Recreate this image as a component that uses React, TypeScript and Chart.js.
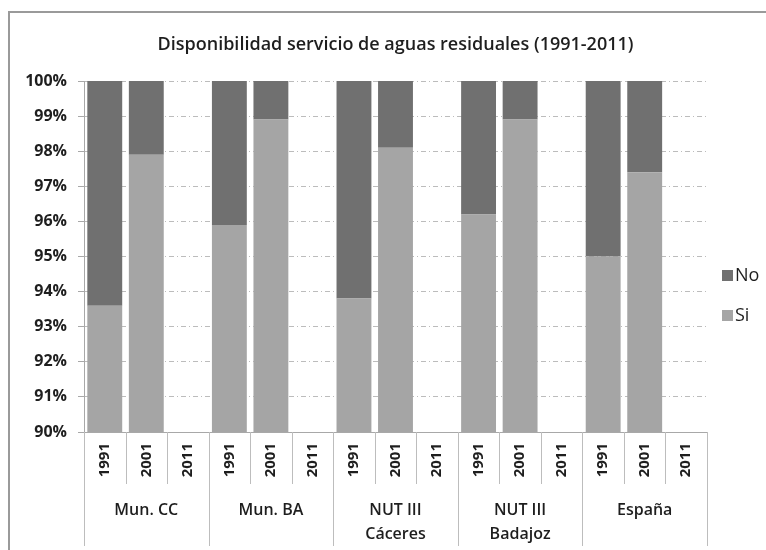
import React, { useEffect, useRef } from 'react';
import { Chart, registerables } from 'chart.js';

Chart.register(...registerables);

const TITLE = 'Disponibilidad servicio de aguas residuales (1991-2011)';
const GROUPS: string[][] = [['Mun. CC'], ['Mun. BA'], ['NUT III', 'Cáceres'], ['NUT III', 'Badajoz'], ['España']];
const YEARS = ['1991', '2001', '2011'];
const SI_VALUES = [93.6, 97.9, null, 95.9, 98.9, null, 93.8, 98.1, null, 96.2, 98.9, null, 95.0, 97.4, null];
const NO_VALUES = [6.4, 2.1, null, 4.1, 1.1, null, 6.2, 1.9, null, 3.8, 1.1, null, 5.0, 2.6, null];
const Y_MIN = 90;
const Y_MAX = 100;

const FONT = '"Open Sans", "DejaVu Sans", sans-serif';
const COLOR_NO = '#707070';
const COLOR_SI = '#a5a5a5';
const LINE = '#a8a8a8';
const TEXT = '#1e1e1e';

const labels: string[] = [];
GROUPS.forEach(() => YEARS.forEach((y) => labels.push(y)));

const decorPlugin = {
  id: 'decor',
  afterDraw(chart: any) {
    const { ctx, chartArea } = chart;
    const { left, right, bottom } = chartArea;
    ctx.save();
    // outer frame
    ctx.strokeStyle = '#9a9a9a';
    ctx.lineWidth = 2;
    ctx.beginPath();
    ctx.moveTo(9, 560);
    ctx.lineTo(9, 12);
    ctx.lineTo(770, 12);
    ctx.stroke();

    // title
    ctx.fillStyle = TEXT;
    ctx.font = `600 18px ${FONT}`;
    ctx.textAlign = 'center';
    ctx.textBaseline = 'middle';
    ctx.fillText(TITLE, (left + right) / 2, 45);

    // category separators
    const n = labels.length;
    const step = (right - left) / n;
    ctx.strokeStyle = '#bdbdbd';
    ctx.lineWidth = 1;
    for (let i = 0; i <= n; i++) {
      const x = Math.round(left + i * step) + 0.5;
      const end = i % YEARS.length === 0 ? 546 : 484;
      ctx.beginPath();
      ctx.moveTo(x, bottom);
      ctx.lineTo(x, end);
      ctx.stroke();
    }

    // group labels
    ctx.fillStyle = TEXT;
    ctx.font = `600 16px ${FONT}`;
    GROUPS.forEach((g, gi) => {
      const cx = left + (gi * YEARS.length + YEARS.length / 2) * step;
      g.forEach((line, li) => {
        ctx.fillText(line, cx, 510 + li * 24);
      });
    });

    // legend
    const items = chart.data.datasets.slice().reverse();
    ctx.font = `18px ${FONT}`;
    ctx.textAlign = 'left';
    items.forEach((ds: any, i: number) => {
      const y = 275 + i * 40;
      ctx.fillStyle = ds.backgroundColor;
      ctx.fillRect(722, y - 5, 11, 11);
      ctx.fillStyle = TEXT;
      ctx.fillText(ds.label, 735, y + 1);
    });
    ctx.restore();
  },
};

export default function App() {
  const ref = useRef<HTMLCanvasElement>(null);
  useEffect(() => {
    document.body.style.overflow = 'hidden';
    const chart = new Chart(ref.current as HTMLCanvasElement, {
      type: 'bar',
      data: {
        labels,
        datasets: [
          { label: 'Si', data: SI_VALUES as any, backgroundColor: COLOR_SI, barPercentage: 0.84, categoryPercentage: 1 },
          { label: 'No', data: NO_VALUES as any, backgroundColor: COLOR_NO, barPercentage: 0.84, categoryPercentage: 1 },
        ],
      },
      options: {
        animation: false,
        responsive: false,
        maintainAspectRatio: false,
        layout: { padding: { top: 81, right: 59, left: 0, bottom: 0 } },
        plugins: { legend: { display: false }, title: { display: false }, tooltip: { enabled: false } },
        scales: {
          x: {
            stacked: true,
            afterFit: (s: any) => { s.height = 118; },
            grid: { display: false, drawTicks: false },
            border: { display: true, color: LINE, width: 1 },
            ticks: {
              autoSkip: false,
              minRotation: 90,
              maxRotation: 90,
              padding: 11,
              color: TEXT,
              font: { family: FONT, size: 15, weight: 'bold' },
            },
          },
          y: {
            stacked: true,
            min: Y_MIN,
            max: Y_MAX,
            afterFit: (s: any) => { s.width = 84; },
            border: { display: true, color: LINE, width: 1, dash: [5, 3, 1, 3] },
            grid: {
              color: (c: any) => (c.tick && c.tick.value === Y_MIN ? 'rgba(0,0,0,0)' : '#bcbcbc'),
              tickColor: LINE,
              tickLength: 6,
            },
            ticks: {
              stepSize: 1,
              padding: 11,
              color: TEXT,
              font: { family: FONT, size: 16, weight: 'bold' },
              callback: (v: any) => `${v}%`,
            },
          },
        },
      },
      plugins: [decorPlugin],
    });
    return () => chart.destroy();
  }, []);
  return (
    <div style={{ position: 'absolute', left: 0, top: 0, width: 766, height: 550, background: '#fff' }}>
      <canvas ref={ref} width={766} height={550} style={{ display: 'block' }} />
    </div>
  );
}
